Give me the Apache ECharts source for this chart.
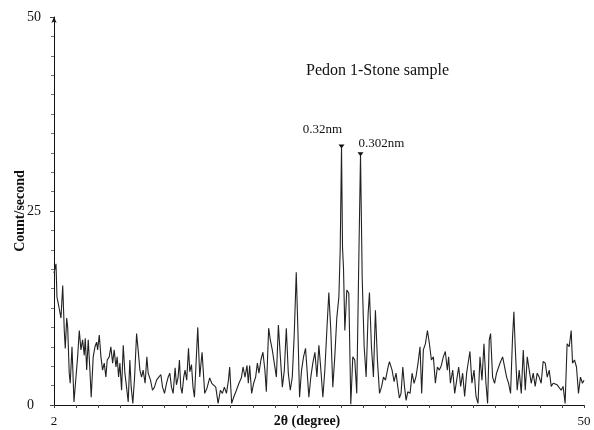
<!DOCTYPE html>
<html>
<head>
<meta charset="utf-8">
<script src="https://cdn.jsdelivr.net/npm/echarts@6/dist/echarts.min.js"></script>
<style>
  html, body { margin: 0; padding: 0; background: #fff; }
  #chart { width: 594px; height: 430px; }
</style>
</head>
<body>
<div id="chart"></div>
<script>
// 2-theta positions (degree) and intensities (count/second)
const twoTheta = [
  2.00, 2.18, 2.27, 2.45, 2.63, 2.79, 2.93, 3.02, 3.15, 3.24, 3.38, 3.47, 3.63, 3.81, 3.99,
  4.14, 4.29, 4.44, 4.59, 4.74, 4.83, 4.96, 5.10, 5.25, 5.37, 5.55, 5.71, 5.86, 5.95, 6.10,
  6.25, 6.40, 6.55, 6.70, 6.82, 7.00, 7.15, 7.31, 7.45, 7.61, 7.72, 7.85, 7.97, 8.12, 8.27,
  8.42, 8.57, 8.72, 8.87, 8.99, 9.14, 9.30, 9.48, 9.62, 9.78, 9.93, 10.07, 10.25, 10.41, 10.53,
  10.74, 10.92, 11.10, 11.29, 11.49, 11.68, 11.83, 12.01, 12.19, 12.34, 12.49, 12.64, 12.79, 12.97, 13.09,
  13.24, 13.36, 13.48, 13.60, 13.75, 13.87, 14.02, 14.18, 14.30, 14.45, 14.59, 14.72, 15.02, 15.20, 15.41,
  15.65, 15.86, 16.10, 16.29, 16.47, 16.65, 16.86, 17.07, 17.25, 17.43, 17.62, 17.80, 17.91, 18.09, 18.27,
  18.52, 18.75, 18.97, 19.12, 19.30, 19.48, 19.60, 19.72, 19.90, 20.08, 20.26, 20.42, 20.56, 20.74, 20.92,
  21.10, 21.23, 21.44, 21.59, 21.77, 21.95, 22.14, 22.32, 22.50, 22.68, 22.86, 23.04, 23.22, 23.40, 23.58,
  23.76, 23.94, 24.09, 24.24, 24.42, 24.60, 24.78, 24.90, 25.08, 25.26, 25.44, 25.63, 25.81, 25.99, 26.17,
  26.35, 26.53, 26.71, 26.89, 27.07, 27.25, 27.43, 27.61, 27.80, 27.92, 28.04, 28.13, 28.22, 28.34, 28.52,
  28.70, 28.88, 29.06, 29.24, 29.42, 29.60, 29.76, 29.91, 30.09, 30.27, 30.45, 30.57, 30.75, 30.93, 31.11,
  31.29, 31.48, 31.66, 31.84, 32.02, 32.26, 32.38, 32.62, 32.80, 32.98, 33.13, 33.28, 33.43, 33.59, 33.74,
  33.89, 34.04, 34.25, 34.43, 34.61, 34.79, 34.97, 35.15, 35.30, 35.45, 35.64, 35.82, 36.00, 36.18, 36.36,
  36.54, 36.72, 36.90, 37.08, 37.26, 37.44, 37.62, 37.74, 37.90, 38.11, 38.29, 38.47, 38.65, 38.83, 39.01,
  39.19, 39.37, 39.55, 39.67, 39.85, 40.04, 40.22, 40.40, 40.58, 40.76, 40.94, 41.12, 41.27, 41.42, 41.54,
  41.72, 41.90, 42.08, 42.27, 42.45, 42.63, 42.81, 42.99, 43.17, 43.35, 43.53, 43.65, 43.77, 43.95, 44.13,
  44.32, 44.50, 44.68, 44.86, 45.04, 45.22, 45.40, 45.58, 45.76, 45.94, 46.12, 46.30, 46.49, 46.67, 46.85,
  47.03, 47.21, 47.39, 47.57, 47.75, 47.93, 48.11, 48.29, 48.47, 48.66, 48.84, 48.96, 49.14, 49.32, 49.50,
  49.68, 49.86, 50.00
];
const counts = [
  17.0, 18.2, 13.9, 12.6, 11.2, 15.4, 9.6, 7.3, 11.2, 10.0, 4.1, 2.8, 7.5, 0.4, 3.6,
  6.2, 9.6, 7.1, 8.4, 6.4, 8.6, 4.5, 8.4, 4.5, 1.0, 6.2, 7.5, 8.1, 7.1, 9.0,
  6.2, 4.5, 5.4, 3.6, 5.8, 6.2, 7.5, 5.4, 7.1, 4.9, 6.2, 3.6, 5.4, 1.9, 7.7,
  4.1, 2.3, 0.4, 5.8, 2.3, 0.2, 3.6, 9.2, 7.1, 4.5, 3.6, 4.5, 2.8, 6.2, 4.1,
  3.2, 1.9, 2.3, 3.2, 3.6, 3.9, 2.3, 1.5, 2.8, 3.6, 4.1, 2.3, 1.5, 4.8, 2.6,
  3.6, 5.8, 2.3, 1.5, 3.6, 4.5, 3.2, 7.3, 4.3, 5.2, 2.3, 1.0, 10.0, 3.6, 6.8,
  1.5, 2.2, 3.5, 2.8, 3.0, 2.3, 0.2, 1.9, 1.5, 2.3, 1.5, 3.2, 4.9, 0.2, 1.0,
  1.9, 2.8, 3.5, 4.9, 3.6, 5.1, 2.8, 5.1, 1.5, 2.8, 3.6, 5.4, 4.1, 5.8, 6.8,
  4.5, 1.7, 9.9, 8.4, 7.1, 5.4, 3.6, 10.3, 6.2, 2.3, 4.5, 9.9, 4.1, 1.9, 3.6,
  9.2, 17.1, 9.6, 1.0, 4.5, 6.2, 7.3, 4.9, 1.0, 3.6, 5.4, 6.8, 3.6, 7.7, 4.5,
  1.0, 4.5, 9.6, 14.5, 9.6, 2.3, 6.2, 11.2, 13.9, 20.0, 33.3, 20.3, 17.6, 9.6, 14.8,
  14.4, 0.1, 6.2, 5.8, 1.5, 18.2, 32.3, 16.5, 7.5, 3.6, 11.8, 14.5, 7.5, 3.6, 12.2,
  5.8, 1.5, 2.3, 3.6, 3.2, 4.9, 5.6, 4.5, 3.0, 4.1, 2.4, 0.9, 1.5, 4.9, 2.4,
  0.6, 1.7, 1.5, 4.1, 2.8, 3.7, 5.4, 7.5, 1.5, 7.1, 7.9, 9.6, 7.9, 5.8, 6.2,
  2.8, 4.9, 4.5, 5.1, 6.2, 6.9, 4.5, 6.2, 2.8, 4.5, 1.5, 3.2, 4.9, 2.4, 4.1,
  1.1, 4.1, 5.8, 6.9, 2.8, 4.5, 1.1, 0.2, 6.2, 3.2, 7.9, 2.8, 0.2, 8.4, 9.2,
  3.6, 2.8, 4.1, 4.9, 5.6, 6.2, 6.0, 3.6, 2.8, 1.5, 8.8, 12.0, 7.5, 1.9, 4.5,
  1.5, 7.1, 1.9, 6.2, 4.5, 2.8, 4.1, 2.4, 4.1, 3.6, 2.8, 5.6, 5.4, 3.6, 4.5,
  2.4, 2.8, 3.0, 2.6, 2.8, 1.9, 2.4, 0.2, 7.9, 7.5, 9.6, 5.4, 5.8, 4.9, 1.5,
  3.6, 2.8, 3.2
];
const xTickLabels = [2, 50];
const yTickLabels = [0, 25, 50];
const peakPositions = [28.04, 29.76];
const peakLabels = ['0.32nm', '0.302nm'];

const serif = 'Liberation Serif, Times New Roman, serif';
const chart = echarts.init(document.getElementById('chart'));

const lineData = twoTheta.map((t, i) => [t, counts[i]]);
const labelOffsets = [[-19, -17], [21, -11]];
const peakMarks = peakPositions.map((p, i) => ({
  coord: [p, counts[twoTheta.indexOf(p)]],
  label: { formatter: peakLabels[i], offset: labelOffsets[i] }
}));

chart.setOption({
  animation: false,
  backgroundColor: '#fff',
  title: {
    text: 'Pedon 1-Stone sample',
    left: 301,
    top: 58,
    textStyle: { fontFamily: serif, fontSize: 16, fontWeight: 'normal', color: '#111' }
  },
  grid: {
    left: 54, right: 10, top: 17, bottom: 25,
    containLabel: false,
    outerBoundsMode: 'none'
  },
  xAxis: {
    type: 'value',
    min: 2,
    max: 50,
    interval: 2,
    name: '2θ (degree)',
    nameLocation: 'middle',
    nameGap: 9,
    nameMoveOverlap: false,
    nameTextStyle: {
      fontFamily: serif, fontSize: 14, fontWeight: 'bold', color: '#111',
      padding: [0, 24, 0, 0]
    },
    axisLine: { lineStyle: { color: '#111', width: 1 } },
    axisTick: { length: 3, lineStyle: { color: '#444' } },
    axisLabel: {
      margin: 10,
      fontFamily: serif,
      fontSize: 13,
      color: '#111',
      formatter: v => (xTickLabels.indexOf(v) >= 0 ? String(v) : '')
    },
    splitLine: { show: false }
  },
  yAxis: {
    type: 'value',
    min: 0,
    max: 50,
    interval: 25,
    name: 'Count/second',
    nameLocation: 'middle',
    nameGap: 27,
    nameMoveOverlap: false,
    nameTextStyle: { fontFamily: serif, fontSize: 14, fontWeight: 'bold', color: '#111' },
    axisLine: {
      show: true,
      symbol: ['none', 'arrow'],
      symbolSize: [4, 6],
      lineStyle: { color: '#111', width: 1 }
    },
    axisTick: { show: true, length: 4, lineStyle: { color: '#444' } },
    minorTick: { show: true, splitNumber: 10, length: 3, lineStyle: { color: '#777' } },
    axisLabel: {
      margin: 27,
      align: 'left',
      fontFamily: serif,
      fontSize: 14,
      color: '#111',
      formatter: v => (yTickLabels.indexOf(v) >= 0 ? String(v) : '')
    },
    splitLine: { show: false }
  },
  series: [{
    type: 'line',
    data: lineData,
    showSymbol: false,
    smooth: false,
    lineStyle: { color: '#222', width: 1.1 },
    markPoint: {
      symbol: 'triangle',
      symbolRotate: 180,
      symbolSize: [6, 4],
      itemStyle: { color: '#111' },
      label: {
        show: true,
        position: 'inside',
        fontFamily: serif,
        fontSize: 13,
        color: '#111'
      },
      data: peakMarks
    }
  }]
});
</script>
</body>
</html>
